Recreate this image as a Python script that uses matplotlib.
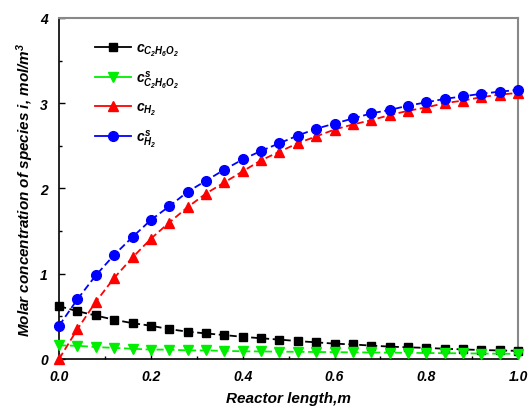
import matplotlib
matplotlib.use("Agg")
import matplotlib.pyplot as plt
from matplotlib.ticker import MultipleLocator

plt.rcParams['font.family'] = ['Liberation Sans', 'DejaVu Sans']
plt.rcParams['mathtext.fontset'] = 'custom'
plt.rcParams['mathtext.rm'] = 'Liberation Sans:bold:italic'
plt.rcParams['mathtext.it'] = 'Liberation Sans:bold:italic'
plt.rcParams['mathtext.bf'] = 'Liberation Sans:bold:italic'

x = [0.00, 0.04, 0.08, 0.12, 0.16, 0.20, 0.24, 0.28, 0.32, 0.36, 0.40,
     0.44, 0.48, 0.52, 0.56, 0.60, 0.64, 0.68, 0.72, 0.76, 0.80,
     0.84, 0.88, 0.92, 0.96, 1.00]

c_eg = [0.62, 0.56, 0.51, 0.46, 0.42, 0.39, 0.35, 0.32, 0.30, 0.28, 0.26,
        0.243, 0.227, 0.21, 0.195, 0.18, 0.17, 0.157, 0.145, 0.137, 0.13,
        0.12, 0.112, 0.105, 0.10, 0.095]
cs_eg = [0.16, 0.155, 0.14, 0.13, 0.12, 0.11, 0.11, 0.10, 0.10, 0.095, 0.09,
         0.088, 0.086, 0.084, 0.082, 0.080, 0.078, 0.076, 0.074, 0.072, 0.070,
         0.068, 0.066, 0.064, 0.062, 0.060]
c_h2 = [0.0, 0.35, 0.67, 0.95, 1.19, 1.41, 1.60, 1.78, 1.94, 2.07, 2.20,
        2.33, 2.43, 2.53, 2.61, 2.69, 2.75, 2.80, 2.86, 2.91, 2.95,
        3.00, 3.03, 3.07, 3.10, 3.12]
cs_h2 = [0.39, 0.70, 0.98, 1.22, 1.43, 1.63, 1.79, 1.96, 2.09, 2.22, 2.34,
         2.44, 2.53, 2.62, 2.70, 2.76, 2.82, 2.88, 2.92, 2.97, 3.01,
         3.05, 3.08, 3.11, 3.135, 3.155]

labels = [r'$c_{C_2H_6O_2}$', r'$c^{s}_{C_2H_6O_2}$', r'$c_{H_2}$', r'$c^{s}_{H_2}$']

fig = plt.figure(figsize=(5.32, 4.10), dpi=100)
ax = fig.add_axes([0.111, 0.122, 0.863, 0.832])

dash = (0, (4, 2))
ax.plot(x, c_eg, color='black', marker='s', ms=6, lw=1.3, linestyle=dash, label=labels[0], clip_on=False, zorder=3)
ax.plot(x, cs_eg, color='#00ee00', marker='v', ms=7, lw=1.3, linestyle=dash, label=labels[1], clip_on=False, zorder=3)
ax.plot(x, c_h2, color='red', marker='^', ms=7, lw=1.3, linestyle=dash, label=labels[2], clip_on=False, zorder=3)
ax.plot(x, cs_h2, color='blue', marker='o', ms=7, lw=1.3, linestyle=dash, label=labels[3], clip_on=False, zorder=4)

ax.set_xlim(0, 1.0)
ax.set_ylim(0, 4)
ax.xaxis.set_major_locator(MultipleLocator(0.2))
ax.xaxis.set_minor_locator(MultipleLocator(0.1))
ax.yaxis.set_major_locator(MultipleLocator(1))
ax.yaxis.set_minor_locator(MultipleLocator(0.5))
ax.set_yticks([0, 1, 2, 3, 4])
ax.set_yticklabels(['0', '1', '2', '3', '4'])
ax.set_xticks([0.0, 0.2, 0.4, 0.6, 0.8, 1.0])
ax.set_xticklabels(['0.0', '0.2', '0.4', '0.6', '0.8', '1.0'])
ax.tick_params(which='both', direction='in', top=False, right=False)
ax.tick_params(which='major', length=4, width=1)
ax.tick_params(which='minor', length=2.5, width=1)
ax.tick_params(axis='x', pad=7)
ax.tick_params(axis='y', pad=8)
for lab in ax.get_xticklabels() + ax.get_yticklabels():
    lab.set_fontweight('bold')
    lab.set_fontstyle('italic')
    lab.set_fontsize(10)

ax.spines['left'].set_color('black')
ax.spines['bottom'].set_color('black')
ax.spines['left'].set_linewidth(1.2)
ax.spines['bottom'].set_linewidth(1.2)
ax.spines['top'].set_color('#888888')
ax.spines['right'].set_color('#888888')
ax.spines['top'].set_linewidth(1.5)
ax.spines['right'].set_linewidth(1.5)

ax.set_xlabel('Reactor length,m', fontsize=11, fontweight='bold', fontstyle='italic', labelpad=6)
ax.set_ylabel(r'Molar concentration of species i, mol/m$^3$', fontsize=11, fontweight='bold',
              fontstyle='italic', labelpad=3)

leg = ax.legend(loc='upper left', bbox_to_anchor=(0.05, 0.97), frameon=False, fontsize=10,
                handlelength=2.6, labelspacing=0.75, handletextpad=0.4)
for ln in leg.get_lines():
    ln.set_linestyle('-')

fig.savefig('out.png', dpi=100)
